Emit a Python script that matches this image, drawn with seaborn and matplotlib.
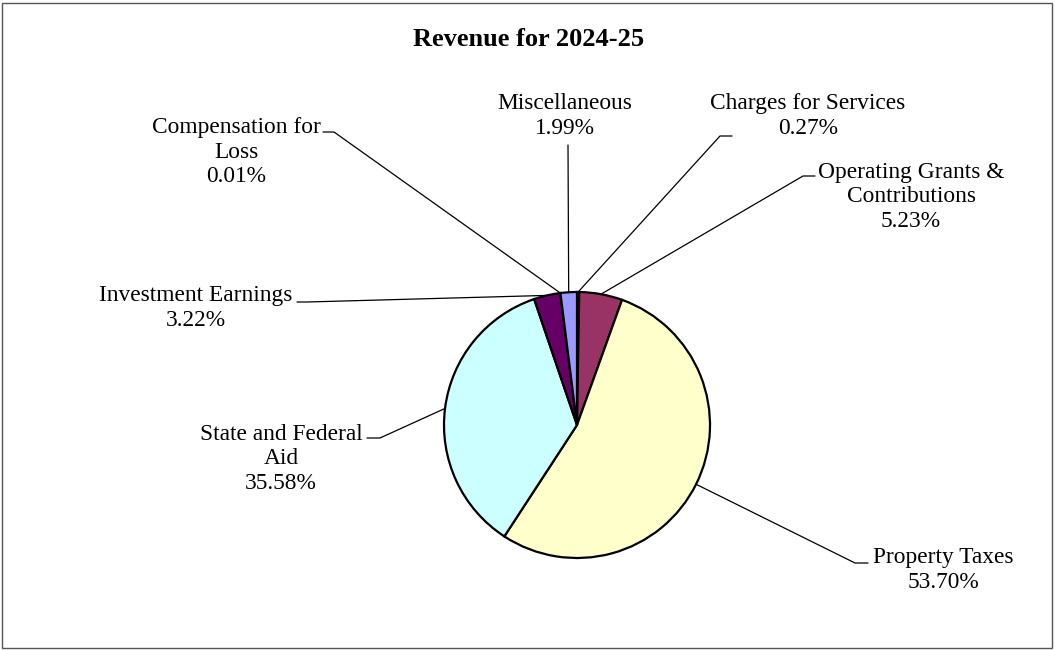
import numpy as np
import seaborn as sns
import matplotlib.pyplot as plt
from matplotlib.patches import Rectangle

# datos del grafico (orden horario desde arriba)
categorias = ['Charges for Services', 'Operating Grants &\nContributions', 'Property Taxes',
              'State and Federal\nAid', 'Investment Earnings', 'Compensation for\nLoss',
              'Miscellaneous']
porcentajes = [0.27, 5.23, 53.70, 35.58, 3.22, 0.01, 1.99]
colores = ['#000080', '#993366', '#FFFFCC', '#CCFFFF', '#660066', '#FF8080', '#9999FF']

# posicion de cada etiqueta (pixeles) y del codo de la linea guia
pos_etiquetas = [(808, 116), (911, 197), (943, 570), (281, 459), (196, 308), (236, 152), (565, 116)]
codos = [((732, 136), (720, 136)), ((815, 176), (803, 176)), ((868, 563), (855, 563)),
         ((367, 438), (380, 438)), ((297, 302), (307, 302)), ((323, 132), (334, 132)),
         ((568, 145), (568, 145))]

sns.set_style("white")
plt.rcParams['font.family'] = ['Liberation Serif', 'DejaVu Serif']
plt.rcParams['text.color'] = 'black'

W, H = 1055, 650
fig = plt.figure(figsize=(W / 100, H / 100), dpi=100)
ax = fig.add_axes([0, 0, 1, 1])

centro = (577, H - 425)
radio = 133
wedges, _ = ax.pie(porcentajes, colors=colores, startangle=90, counterclock=False,
                   center=centro, radius=radio, frame=True,
                   wedgeprops=dict(edgecolor='black', linewidth=1.6))
ax.set_xlim(0, W)
ax.set_ylim(0, H)
ax.set_aspect('equal')
ax.axis('off')

for w, cat, pct, (lx, ly), (c1, c2) in zip(wedges, categorias, porcentajes, pos_etiquetas, codos):
    ang = np.deg2rad((w.theta1 + w.theta2) / 2)
    px = centro[0] + radio * np.cos(ang)
    py = centro[1] + radio * np.sin(ang)
    ax.plot([c1[0], c2[0], px], [H - c1[1], H - c2[1], py], color='black', lw=0.9)
    ax.text(lx, H - ly, f"{cat}\n{pct:.2f}%", ha='center', va='center',
            fontsize=16.8, linespacing=1.22)

ax.text(529, H - 40, 'Revenue for 2024-25', ha='center', va='center',
        fontsize=19, fontweight='bold')

fig.patches.append(Rectangle((2 / W, 2 / H), 1 - 5 / W, 1 - 5 / H, transform=fig.transFigure,
                             fill=False, edgecolor='#555555', linewidth=1))

fig.savefig('out.png', dpi=100)
